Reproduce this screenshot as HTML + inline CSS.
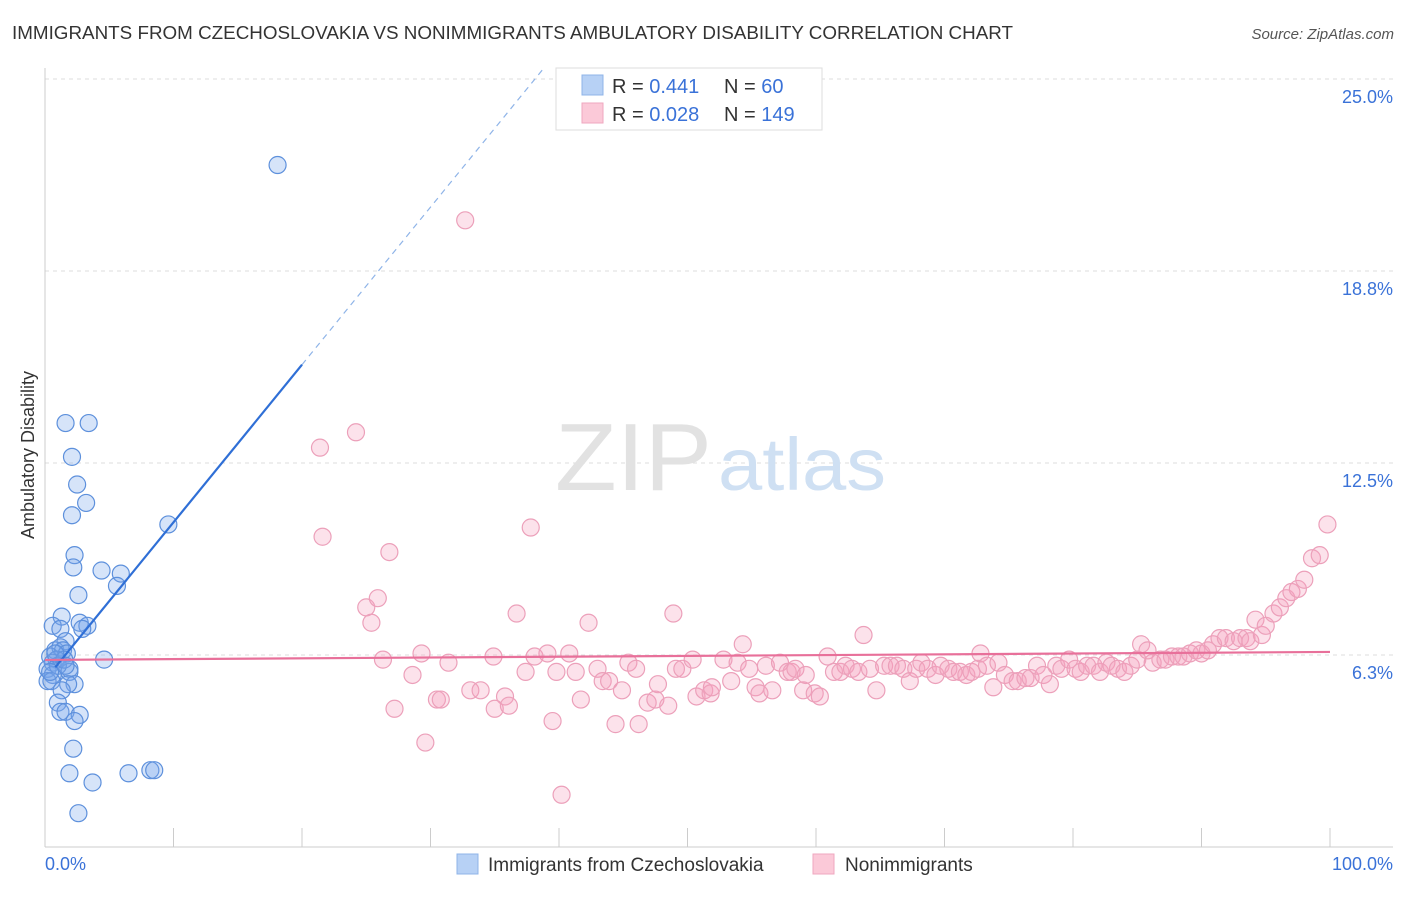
<!DOCTYPE html>
<html><head><meta charset="utf-8"><style>
body{margin:0;background:#fff;font-family:"Liberation Sans",sans-serif;}
svg text{font-family:"Liberation Sans",sans-serif;}
</style></head><body>
<svg id="chart" width="1406" height="892" xmlns="http://www.w3.org/2000/svg">
<text x="12" y="39" font-size="18" textLength="1001" lengthAdjust="spacingAndGlyphs" fill="#333">IMMIGRANTS FROM CZECHOSLOVAKIA VS NONIMMIGRANTS AMBULATORY DISABILITY CORRELATION CHART</text>
<text x="1394" y="39" font-size="15" fill="#555" font-style="italic" text-anchor="end">Source: ZipAtlas.com</text>
<g id="grid"></g>
<text x="555" y="490" font-size="96" fill="#e2e2e2" font-family="Liberation Serif" textLength="157" lengthAdjust="spacingAndGlyphs">ZIP</text>
<text x="718" y="490" font-size="74" fill="#cfe0f3" textLength="168" lengthAdjust="spacingAndGlyphs">atlas</text>
<g id="marks"></g>
<text transform="translate(34,455) rotate(-90)" font-size="18" fill="#333" text-anchor="middle">Ambulatory Disability</text>
<g>
<rect x="556" y="68" width="266" height="62" fill="#fff" stroke="#ddd"/>
<rect x="582" y="75" width="21" height="20" fill="#b7d1f5" stroke="#8fb4e8"/>
<rect x="582" y="103" width="21" height="20" fill="#fbc9d8" stroke="#efa7bf"/>
<text x="612" y="93" font-size="20" fill="#333">R = <tspan fill="#3a72d8"> 0.441</tspan></text>
<text x="724" y="93" font-size="20" fill="#333">N = <tspan fill="#3a72d8">  60</tspan></text>
<text x="612" y="121" font-size="20" fill="#333">R = <tspan fill="#3a72d8">0.028</tspan></text>
<text x="724" y="121" font-size="20" fill="#333">N = <tspan fill="#3a72d8">149</tspan></text>
</g>
<g>
<rect x="457" y="854" width="21" height="20" fill="#b7d1f5" stroke="#8fb4e8"/>
<text x="488" y="871" font-size="19" fill="#333">Immigrants from Czechoslovakia</text>
<rect x="813" y="854" width="21" height="20" fill="#fbc9d8" stroke="#efa7bf"/>
<text x="845" y="871" font-size="19" fill="#333">Nonimmigrants</text>
</g>
</svg>
<script>
const yTicks=[6.25,12.5,18.75,25];
const yTickLabels=["6.3%","12.5%","18.8%","25.0%"];
const xTicks=[0,10,20,30,40,50,60,70,80,90,100];
const blueX=[18.1,1.6,3.4,2.1,2.5,3.2,2.1,9.6,2.3,2.2,4.4,5.9,5.6,2.6,1.3,0.6,2.7,3.3,2.9,1.2,1.6,0.8,1.2,1.4,1.7,0.4,0.9,0.6,0.2,4.6,1.9,1.9,0.6,0.2,0.5,2.3,1.8,1.3,1.0,1.2,1.6,2.7,2.3,2.2,1.9,6.5,8.2,8.5,3.7,2.6,1.0,1.5,0.8,0.4,1.6];
const blueY=[22.2,13.8,13.8,12.7,11.8,11.2,10.8,10.5,9.5,9.1,9.0,8.9,8.5,8.2,7.5,7.2,7.3,7.2,7.1,7.1,6.7,6.4,6.5,6.4,6.3,6.2,6.1,6.0,5.8,6.1,5.8,5.7,5.6,5.4,5.4,5.3,5.3,5.1,4.7,4.4,4.4,4.3,4.1,3.2,2.4,2.4,2.5,2.5,2.1,1.1,5.9,6.1,6.3,5.7,5.9];
const pinkX=[32.7,21.4,24.2,21.6,26.8,37.8,25.0,25.9,25.4,36.7,42.3,48.9,26.3,29.3,31.4,28.6,27.2,29.6,30.5,30.8,33.1,33.9,35.8,35.0,36.1,34.9,37.4,38.1,39.1,39.5,40.2,39.8,40.8,41.3,41.7,43.0,43.4,43.9,44.4,44.9,45.4,46.0,46.2,46.9,47.5,47.7,48.5,49.1,49.6,50.4,50.7,51.3,51.8,51.9,52.8,53.4,53.9,54.3,54.8,55.3,55.6,56.1,56.6,57.2,57.8,58.1,58.4,59.0,59.2,59.9,60.3,60.9,61.4,61.9,62.3,62.8,63.3,63.7,64.2,64.7,65.3,65.8,66.3,66.8,67.3,67.8,68.2,68.7,69.3,69.7,70.3,70.7,71.2,71.7,72.1,72.6,72.8,73.3,73.8,74.2,74.7,75.3,75.7,76.3,76.7,77.2,77.7,78.2,78.7,79.1,79.7,80.2,80.6,81.1,81.6,82.1,82.6,83.0,83.5,84.0,84.5,85.0,85.3,85.8,86.2,86.8,87.2,87.7,88.2,88.6,89.1,89.6,90.0,90.5,90.9,91.4,91.9,92.5,93.0,93.5,93.8,94.2,94.7,95.0,95.6,96.1,96.6,97.0,97.5,98.0,98.6,99.2,99.8];
const pinkY=[20.4,13.0,13.5,10.1,9.6,10.4,7.8,8.1,7.3,7.6,7.3,7.6,6.1,6.3,6.0,5.6,4.5,3.4,4.8,4.8,5.1,5.1,4.9,4.5,4.6,6.2,5.7,6.2,6.3,4.1,1.7,5.7,6.3,5.7,4.8,5.8,5.4,5.4,4.0,5.1,6.0,5.8,4.0,4.7,4.8,5.3,4.6,5.8,5.8,6.1,4.9,5.1,5.0,5.2,6.1,5.4,6.0,6.6,5.8,5.2,5.0,5.9,5.1,6.0,5.7,5.7,5.8,5.1,5.6,5.0,4.9,6.2,5.7,5.7,5.9,5.8,5.7,6.9,5.8,5.1,5.9,5.9,5.9,5.8,5.4,5.8,6.0,5.8,5.6,5.9,5.8,5.7,5.7,5.6,5.7,5.8,6.3,5.9,5.2,6.0,5.6,5.4,5.4,5.5,5.5,5.9,5.6,5.3,5.9,5.8,6.1,5.8,5.7,5.9,5.9,5.7,6.0,5.9,5.8,5.7,5.9,6.1,6.6,6.4,6.0,6.1,6.1,6.2,6.2,6.2,6.3,6.4,6.3,6.4,6.6,6.8,6.8,6.7,6.8,6.8,6.7,7.4,6.9,7.2,7.6,7.8,8.1,8.3,8.4,8.7,9.4,9.5,10.5];
const blueTrend=[5.44,15.7];   // y at x=0 and x=20
const pinkTrend=[6.09,6.35];   // y at x=0 and x=100

const NS="http://www.w3.org/2000/svg";
const X0=45,X1=1330,YB=847,PX_PER=30.72;
const sx=v=>X0+(X1-X0)*v/100;
const sy=v=>YB-v*PX_PER;
function mk(tag,attrs,parent){const e=document.createElementNS(NS,tag);for(const k in attrs)e.setAttribute(k,attrs[k]);parent.appendChild(e);return e;}
const grid=document.getElementById('grid');
const marks=document.getElementById('marks');
yTicks.forEach((t,i)=>{
  const l=mk('line',{x1:X0,x2:1393,y1:sy(t),y2:sy(t),stroke:'#ddd','stroke-dasharray':'4,4'},grid);
  
  
  const tx=mk('text',{x:1393,y:sy(t)+24,'font-size':18,fill:'#3a72d8','text-anchor':'end'},grid);
  tx.textContent=yTickLabels[i];
  
  
});
const ax=mk('line',{x1:X0,x2:X0,y1:68,y2:YB,stroke:'#ccc'},grid);


const bx=mk('line',{x1:X0,x2:1393,y1:YB,y2:YB,stroke:'#ccc'},grid);


xTicks.forEach(t=>{
  const l=mk('line',{x1:sx(t),x2:sx(t),y1:828,y2:YB,stroke:'#ccc'},grid);
  
  
});
const xl0=mk('text',{x:45,y:870,'font-size':18,fill:'#3a72d8'},grid);xl0.textContent='0.0%';


const xl1=mk('text',{x:1393,y:870,'font-size':18,fill:'#3a72d8','text-anchor':'end'},grid);xl1.textContent='100.0%';



pinkX.forEach((x,i)=>{
  const c=mk('circle',{cx:sx(x),cy:sy(pinkY[i]),r:8.5,fill:'rgba(244,160,190,0.3)',stroke:'#eca0ba','stroke-width':1.2},marks);
  
  
});
blueX.forEach((x,i)=>{
  const c=mk('circle',{cx:sx(x),cy:sy(blueY[i]),r:8.5,fill:'rgba(120,165,235,0.3)',stroke:'#5d90dc','stroke-width':1.2},marks);
  
  
});
const slope=(blueTrend[1]-blueTrend[0])/20;
const yAt=x=>blueTrend[0]+slope*x;
const xEnd=(25.4-blueTrend[0])/slope;
const bd=mk('line',{x1:sx(20),y1:sy(yAt(20)),x2:sx(xEnd),y2:sy(yAt(xEnd)),stroke:'#8fb4e8','stroke-width':1.2,'stroke-dasharray':'6,5'},marks);


const bl=mk('line',{x1:sx(0.8),y1:sy(yAt(0.8)),x2:sx(20),y2:sy(yAt(20)),stroke:'#2f6fd6','stroke-width':2.2},marks);


const pl=mk('line',{x1:sx(0),y1:sy(pinkTrend[0]),x2:sx(100),y2:sy(pinkTrend[1]),stroke:'#e8709a','stroke-width':2.2},marks);


</script>
</body></html>
